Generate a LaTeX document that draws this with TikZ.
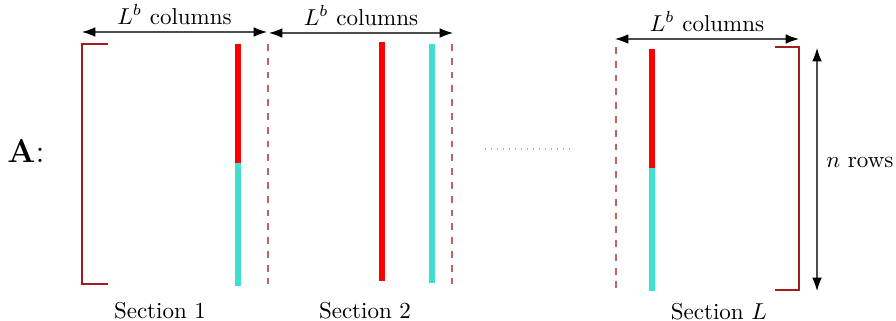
\documentclass[tikz,border=0pt]{standalone}
\usetikzlibrary{arrows.meta}
\definecolor{barred}{RGB}{255,0,0}
\definecolor{barcyan}{RGB}{64,224,208}
\definecolor{brk}{RGB}{160,30,30}
\definecolor{dsh}{RGB}{190,100,100}
\begin{document}
\begin{tikzpicture}[x=0.435pt,y=-0.435pt,
  bracket/.style={brk,line width=0.6pt},
  sepline/.style={dsh,dashed,line width=0.6pt},
  redbar/.style={barred,line width=3pt},
  cyanbar/.style={barcyan,line width=3pt},
  dimarrow/.style={{Latex[length=5.8pt,width=4.2pt,color=black]}-{Latex[length=5.8pt,width=4.2pt,color=black]},line width=0.5pt,black!70},
  lbl/.style={inner sep=0pt,font=\normalsize}]
\useasboundingbox (0,0) rectangle (896,321);
% A label
\node[lbl,anchor=base west,font=\Large] (A) at (7,163) {$\mathbf{A}$:};
% left bracket
\draw[bracket] (108,44) -- (82,44) -- (82,284) -- (108,284);
% section 1
\draw[redbar] (238,44) -- (238,163);
\draw[cyanbar] (238,163) -- (238,286);
\draw[sepline] (268,44) -- (268,284);
% section 2
\draw[redbar] (382,42) -- (382,281);
\draw[cyanbar] (432,44) -- (432,283);
\draw[sepline] (452,44) -- (452,284);
% dots
\draw[gray!60,dotted,line width=0.6pt] (485,149) -- (573,149);
% section L
\draw[sepline] (616,47) -- (616,289);
\draw[redbar] (652,49) -- (652,168);
\draw[cyanbar] (652,168) -- (652,291);
\draw[bracket] (775,47) -- (799,47) -- (799,290) -- (775,290);
% dimension arrows
\coordinate (a1l) at (82,32);  \coordinate (a1r) at (267,32);
\coordinate (a2l) at (269,33); \coordinate (a2r) at (453,33);
\coordinate (a3l) at (615,39); \coordinate (a3r) at (799,39);
\coordinate (nt) at (817,48);  \coordinate (nb) at (817,291);
\draw[dimarrow] (a1l) -- node[lbl,above=3pt,black] (c1) {$L^b$ columns} (a1r);
\draw[dimarrow] (a2l) -- node[lbl,above=3pt,black] (c2) {$L^b$ columns} (a2r);
\draw[dimarrow] (a3l) -- node[lbl,above=3pt,black] (c3) {$L^b$ columns} (a3r);
\draw[dimarrow] (nt) -- (nb);
\node[lbl,anchor=base west] (nrows) at (826,168) {$n$ rows};
% section labels
\node[lbl,anchor=base] (s1) at (160,319) {Section 1};
\node[lbl,anchor=base] (s2) at (365,319) {Section 2};
\node[lbl,anchor=base] (sL) at (719,320) {Section $L$};
\end{tikzpicture}
\end{document}
